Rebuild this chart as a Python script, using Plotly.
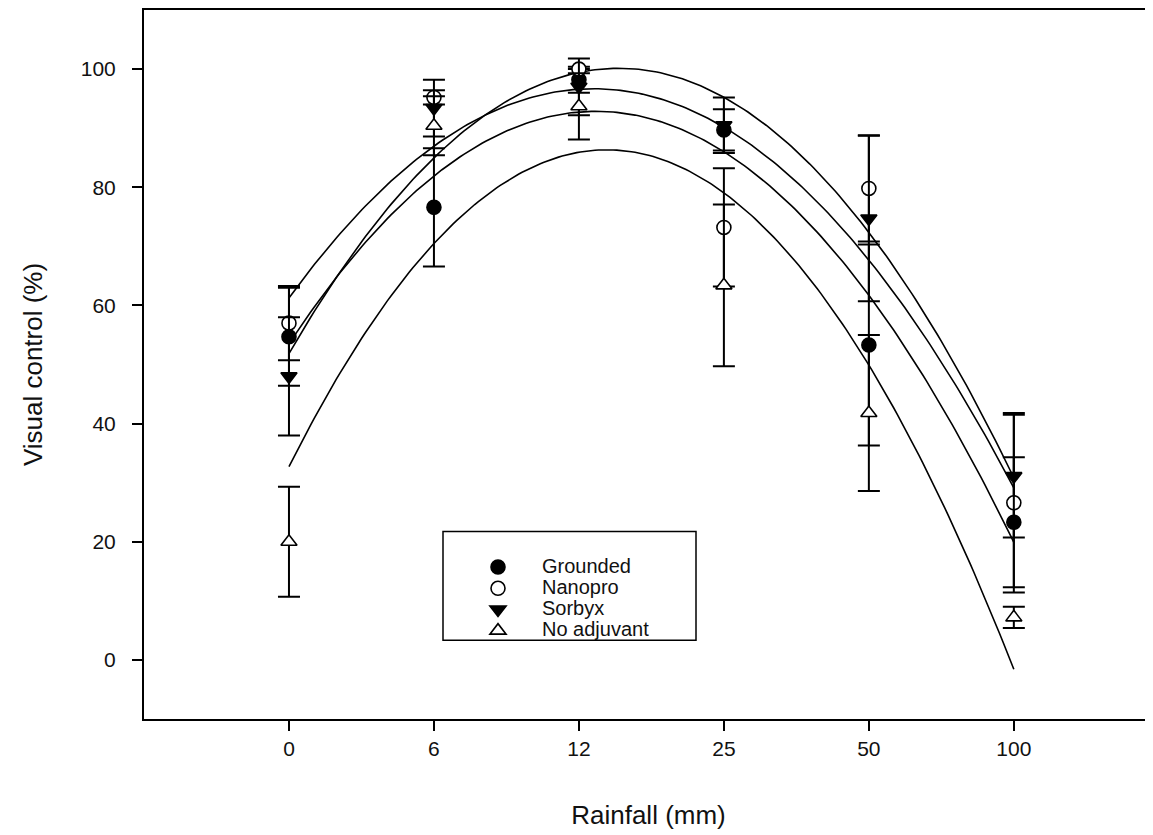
import numpy as np
import plotly.graph_objects as go

# ---- data ----
rainfall_labels = ["0", "6", "12", "25", "50", "100"]

grounded = [54.7, 76.6, 98.2, 89.7, 53.3, 23.3]
grounded_err = [8.3, 10.0, 2.2, 3.5, 17.0, 11.0]

nanopro = [57.0, 95.2, 100.0, 73.2, 79.8, 26.6]
nanopro_err = [6.3, 1.2, 0.0, 10.0, 9.0, 15.2]

sorbyx = [48.0, 93.4, 97.0, 90.5, 74.7, 31.1]
sorbyx_err = [10.0, 4.8, 4.8, 4.7, 14.0, 10.4]

no_adjuvant = [20.0, 90.4, 93.7, 63.4, 41.8, 7.2]
no_adjuvant_err = [9.3, 5.0, 5.6, 13.7, 13.2, 1.8]

series = [
    ("Grounded", grounded, grounded_err, "circle", "black"),
    ("Nanopro", nanopro, nanopro_err, "circle", "white"),
    ("Sorbyx", sorbyx, sorbyx_err, "triangle-down", "black"),
    ("No adjuvant", no_adjuvant, no_adjuvant_err, "triangle-up", "white"),
]

pos = np.arange(len(rainfall_labels))
xfit = np.linspace(pos[0], pos[-1], 200)

fig = go.Figure()

# quadratic regression curves fitted to each series (on category position)
for name, vals, err, sym, fill in series:
    coef = np.polyfit(pos, vals, 2)
    fig.add_trace(go.Scatter(
        x=xfit, y=np.polyval(coef, xfit), mode="lines",
        line=dict(color="black", width=1.6), showlegend=False, hoverinfo="skip"))

for name, vals, err, sym, fill in series:
    fig.add_trace(go.Scatter(
        x=pos, y=vals, mode="markers",
        name="<span style='font-size:20px'>" + name + "</span>",
        marker=dict(symbol=sym, size=14, color=fill,
                    line=dict(color="black", width=1.6)),
        error_y=dict(type="data", array=err, visible=True,
                     color="black", thickness=2, width=11),
    ))

# page offset of the figure inside the browser window (body margin)
OFF = 8
W, H = 1153 - OFF, 835 - OFF
L, R, T, B = 144 - OFF, 0, 8 - OFF, 835 - 719
pw = W - L - R
ph = H - T - B

def px_x(p):
    return (p - OFF - L) / pw

def px_y(p):
    return (H - B - (p - OFF)) / ph

fig.add_shape(type="rect", xref="paper", yref="paper",
              x0=px_x(443), x1=px_x(696), y0=px_y(640), y1=px_y(531),
              line=dict(color="black", width=1.5), fillcolor="white", layer="above")

fig.update_layout(
    width=W, height=H,
    margin=dict(l=L, r=R, t=T, b=B, pad=0),
    paper_bgcolor="white", plot_bgcolor="white",
    font=dict(family="Liberation Sans, Arial, sans-serif", color="#111111"),
    legend=dict(x=px_x(454), y=px_y(551), xanchor="left", yanchor="top",
                bgcolor="rgba(0,0,0,0)", borderwidth=0,
                font=dict(size=14, color="#111111"), itemwidth=78,
                tracegroupgap=0),
    xaxis=dict(range=[-1, 5.96], tickmode="array", tickvals=pos,
               ticktext=rainfall_labels, showgrid=False, zeroline=False,
               showline=True, linecolor="black", linewidth=2, mirror=True,
               ticks="outside", ticklen=10, tickwidth=1.5, tickcolor="black",
               tickfont=dict(size=21),
               title=dict(text="Rainfall (mm)", font=dict(size=26), standoff=47)),
    yaxis=dict(range=[-10, 110], tickvals=[0, 20, 40, 60, 80, 100],
               showgrid=False, zeroline=False, showline=True, linecolor="black",
               linewidth=2, ticks="outside", ticklen=10, tickwidth=1.5,
               tickcolor="black", tickfont=dict(size=21), ticklabelstandoff=12,
               title=dict(text="Visual control (%)", font=dict(size=26), standoff=31)),
)

fig.write_html("out.html")
